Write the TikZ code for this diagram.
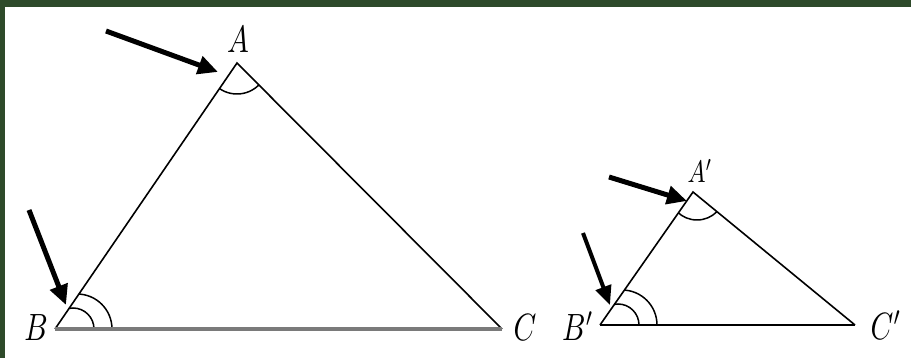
\documentclass[tikz,border=0pt]{standalone}
\usepackage{graphicx}
\usetikzlibrary{arrows.meta}
\definecolor{framegreen}{HTML}{2E4A2A}
\definecolor{basegrey}{HTML}{7A7A7A}
\tikzset{
  side/.style={line width=1.6pt, black, line join=miter},
  base/.style={line width=3.5pt, basegrey},
  smallbase/.style={line width=2pt, black},
  anglearc/.style={line width=1.5pt, black},
  pointer/.style={line width=5pt, black, -{Triangle[length=20pt,width=18pt]}},
  thinpointer/.style={line width=4pt, black, -{Triangle[length=19pt,width=16pt]}},
  lab/.style={inner sep=0pt},
}
\newcommand{\biglab}[1]{\scalebox{2.9}[3.8]{$#1$}}
\newcommand{\smalllab}[1]{\scalebox{2.4}[3.1]{$#1$}}
\begin{document}
\begin{tikzpicture}[x=1pt,y=-1pt]
\useasboundingbox (0,0) rectangle (911,358);
\fill[white] (0,0) rectangle (911,358);
\fill[framegreen] (0,0) rectangle (911,7);
\fill[framegreen] (0,0) rectangle (5,358);

% big triangle
\coordinate (B) at (55,329);
\coordinate (A) at (237,63);
\coordinate (C) at (502,329);
% small triangle
\coordinate (B2) at (600,325);
\coordinate (A2) at (693,192);
\coordinate (C2) at (855,325);

\begin{scope}
  \clip (B) -- (A) -- (C) -- cycle;
  \draw[anglearc] (A) circle[radius=31pt];
  \draw[anglearc] ([xshift=18pt]B) circle[radius=21pt];
  \draw[anglearc] ([xshift=22pt]B) circle[radius=35pt];
\end{scope}
\begin{scope}
  \clip (B2) -- (A2) -- (C2) -- cycle;
  \draw[anglearc] ([xshift=4pt]A2) circle[radius=28pt];
  \draw[anglearc] ([xshift=18pt]B2) circle[radius=21pt];
  \draw[anglearc] ([xshift=22pt]B2) circle[radius=35pt];
\end{scope}

\draw[side] (B) -- (A) -- (C);
\draw[base] (B) -- (C);
\draw[side] (B2) -- (A2) -- (C2);
\draw[smallbase] (B2) -- (C2);

% arrows
\coordinate (tA) at (106,31);  \coordinate (hA) at (218,72);
\coordinate (tB) at (29,210);  \coordinate (hB) at (66,305);
\coordinate (tA2) at (609,177); \coordinate (hA2) at (687,201);
\coordinate (tB2) at (583,233); \coordinate (hB2) at (610,305);
\draw[pointer] (tA) -- (hA);
\draw[pointer] (tB) -- (hB);
\draw[pointer] (tA2) -- (hA2);
\draw[thinpointer] (tB2) -- (hB2);

% labels
\node[lab] (lA) at (238,40) {\biglab{A}};
\node[lab] (lB) at (36,328) {\biglab{B}};
\node[lab] (lC) at (525,328) {\biglab{C}};
\node[lab] (lB2) at (578,326) {\biglab{B'}};
\node[lab] (lA2) at (700,171) {\smalllab{A'}};
\node[lab] (lC2) at (886,325) {\biglab{C'}};
\end{tikzpicture}
\end{document}
